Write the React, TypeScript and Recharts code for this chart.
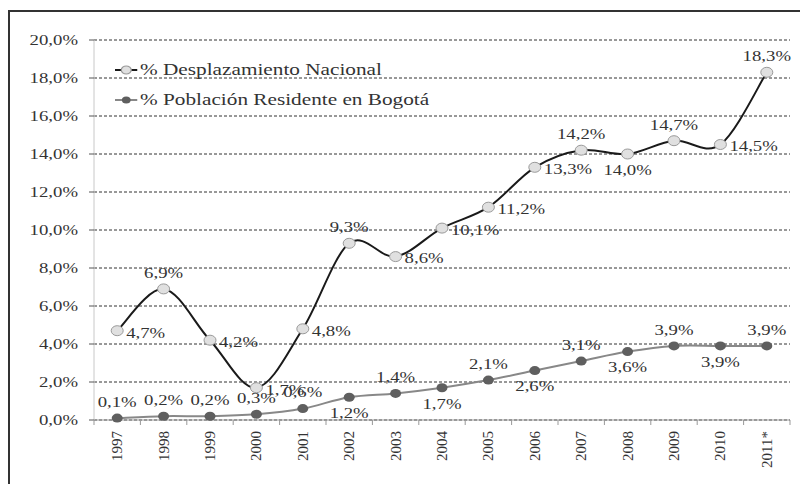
import { LineChart, Line, XAxis, YAxis, CartesianGrid, Legend, LabelList } from 'recharts'

const years = ['1997', '1998', '1999', '2000', '2001', '2002', '2003', '2004', '2005', '2006', '2007', '2008', '2009', '2010', '2011*']
const nacional = [4.7, 6.9, 4.2, 1.7, 4.8, 9.3, 8.6, 10.1, 11.2, 13.3, 14.2, 14.0, 14.7, 14.5, 18.3]
const bogota = [0.1, 0.2, 0.2, 0.3, 0.6, 1.2, 1.4, 1.7, 2.1, 2.6, 3.1, 3.6, 3.9, 3.9, 3.9]
const yTicks = [0, 2, 4, 6, 8, 10, 12, 14, 16, 18, 20]

// where each data label sits relative to its point
const nacionalLabelSide = ['right', 'top', 'right', 'right', 'right', 'top', 'right', 'right', 'right', 'right', 'top', 'bottom', 'top', 'right', 'top']
const bogotaLabelSide = ['top', 'top', 'top', 'top', 'top', 'bottom', 'top', 'bottom', 'top', 'bottom', 'top', 'bottom', 'top', 'bottom', 'top']

const chartData = years.map((year, i) => ({
    year,
    nacional: nacional[i],
    bogota: bogota[i],
}))

const FONT = '"Liberation Serif", "Times New Roman", serif'
const STRETCH = 1.25
const CHART_W = 798
const CHART_H = 472
const Y_AXIS_W = 84
const MARGIN = { top: 28, right: 18, left: 0, bottom: 8 }
const step = (CHART_W - Y_AXIS_W - MARGIN.right) / years.length

const fmt = (v: number) => `${v.toFixed(1).replace('.', ',')}%`

// Excel-like smoothed line (Catmull-Rom as cubic beziers)
function smoothCurve(context: any) {
    let pts: number[][] = []
    return {
        areaStart() {},
        areaEnd() {},
        lineStart() { pts = [] },
        lineEnd() {
            if (!pts.length) return
            context.moveTo(pts[0][0], pts[0][1])
            for (let i = 0; i < pts.length - 1; i++) {
                const p0 = pts[Math.max(i - 1, 0)]
                const p1 = pts[i]
                const p2 = pts[i + 1]
                const p3 = pts[Math.min(i + 2, pts.length - 1)]
                context.bezierCurveTo(
                    p1[0] + (p2[0] - p0[0]) / 6, p1[1] + (p2[1] - p0[1]) / 6,
                    p2[0] - (p3[0] - p1[0]) / 6, p2[1] - (p3[1] - p1[1]) / 6,
                    p2[0], p2[1]
                )
            }
        },
        point(x: number, y: number) { pts.push([+x, +y]) },
    }
}

const makeLabel = (sides: string[]) => (props: any) => {
    const { x, y, value, index } = props
    const side = sides[index]
    let tx = x
    let ty = y
    let anchor = 'middle'
    if (side === 'right') {
        tx = x + 9
        ty = y + 2
        anchor = 'start'
    } else if (side === 'top') {
        ty = y - 16
    } else {
        ty = y + 16
    }
    return (
        <text
            transform={`translate(${tx},${ty}) scale(${STRETCH},1)`}
            textAnchor={anchor}
            dominantBaseline="central"
            fontSize={15}
            fontFamily={FONT}
            fill="#333"
        >
            {fmt(value)}
        </text>
    )
}

const YTick = ({ x, y, payload }: any) => (
    <text
        transform={`translate(${x},${y}) scale(${STRETCH},1)`}
        textAnchor="end"
        dominantBaseline="central"
        fontSize={15}
        fontFamily={FONT}
        fill="#333"
    >
        {fmt(payload.value)}
    </text>
)

const XTick = ({ x, y, payload, index }: any) => (
    <g>
        <line x1={x - step / 2} x2={x - step / 2} y1={y} y2={y + 5} stroke="#999" />
        {index === years.length - 1 && (
            <line x1={x + step / 2} x2={x + step / 2} y1={y} y2={y + 5} stroke="#999" />
        )}
        <text
            transform={`translate(${x},${y + 11}) rotate(-90)`}
            textAnchor="end"
            dominantBaseline="central"
            fontSize={15}
            fontFamily={FONT}
            fill="#333"
        >
            {payload.value}
        </text>
    </g>
)

const LegendContent = ({ payload }: any) => (
    <div style={{ transform: `scaleX(${STRETCH})`, transformOrigin: 'left center', fontFamily: FONT, fontSize: 17, color: '#333' }}>
        {(payload || []).map((entry: any) => {
            const isNac = entry.dataKey === 'nacional'
            return (
                <div key={entry.dataKey} style={{ display: 'flex', alignItems: 'center', height: 30, whiteSpace: 'nowrap' }}>
                    <svg width={18} height={12} style={{ marginRight: 2 }}>
                        <line x1={0} x2={18} y1={6} y2={6} stroke={isNac ? '#1a1a1a' : '#888'} strokeWidth={2} />
                        <circle cx={9} cy={6} r={isNac ? 4 : 3.5} fill={isNac ? '#e0e0e0' : '#5f5f5f'} stroke={isNac ? '#999' : 'none'} />
                    </svg>
                    <span>{entry.value}</span>
                </div>
            )
        })}
    </div>
)

export default function App() {
    return (
        <div
            style={{
                position: 'relative',
                marginTop: 2,
                width: CHART_W,
                height: CHART_H,
                borderLeft: '2px solid #333',
                borderTop: '2px solid #333',
                background: '#fff',
            }}
        >
            <LineChart width={CHART_W} height={CHART_H} data={chartData} margin={MARGIN}>
                <CartesianGrid vertical={false} stroke="#333" strokeDasharray="3 2" />
                <XAxis
                    dataKey="year"
                    padding={{ left: step / 2, right: step / 2 }}
                    interval={0}
                    height={56}
                    tickSize={0}
                    tickMargin={0}
                    tickLine={false}
                    axisLine={{ stroke: '#999' }}
                    tick={<XTick />}
                />
                <YAxis
                    width={Y_AXIS_W}
                    domain={[0, 20]}
                    ticks={yTicks}
                    tickSize={5}
                    tickMargin={11}
                    tickLine={{ stroke: '#555' }}
                    axisLine={{ stroke: '#c8c8c8' }}
                    tick={<YTick />}
                />
                <Legend
                    layout="horizontal"
                    align="center"
                    verticalAlign="middle"
                    wrapperStyle={{ top: 43, left: 105, width: 'auto', height: 'auto' }}
                    content={<LegendContent />}
                />
                <Line
                    name="% Desplazamiento Nacional"
                    dataKey="nacional"
                    type={smoothCurve as any}
                    stroke="#1a1a1a"
                    strokeWidth={2}
                    dot={(p: any) => (
                        <ellipse key={`n${p.index}`} cx={p.cx} cy={p.cy} rx={6} ry={5} fill="#e0e0e0" stroke="#9a9a9a" strokeWidth={1} />
                    )}
                    isAnimationActive={false}
                >
                    <LabelList dataKey="nacional" content={makeLabel(nacionalLabelSide)} />
                </Line>
                <Line
                    name="% Población Residente en Bogotá"
                    dataKey="bogota"
                    type={smoothCurve as any}
                    stroke="#888"
                    strokeWidth={2}
                    dot={(p: any) => (
                        <ellipse key={`b${p.index}`} cx={p.cx} cy={p.cy} rx={5.5} ry={4.5} fill="#5f5f5f" stroke="none" />
                    )}
                    isAnimationActive={false}
                >
                    <LabelList dataKey="bogota" content={makeLabel(bogotaLabelSide)} />
                </Line>
            </LineChart>
        </div>
    )
}
